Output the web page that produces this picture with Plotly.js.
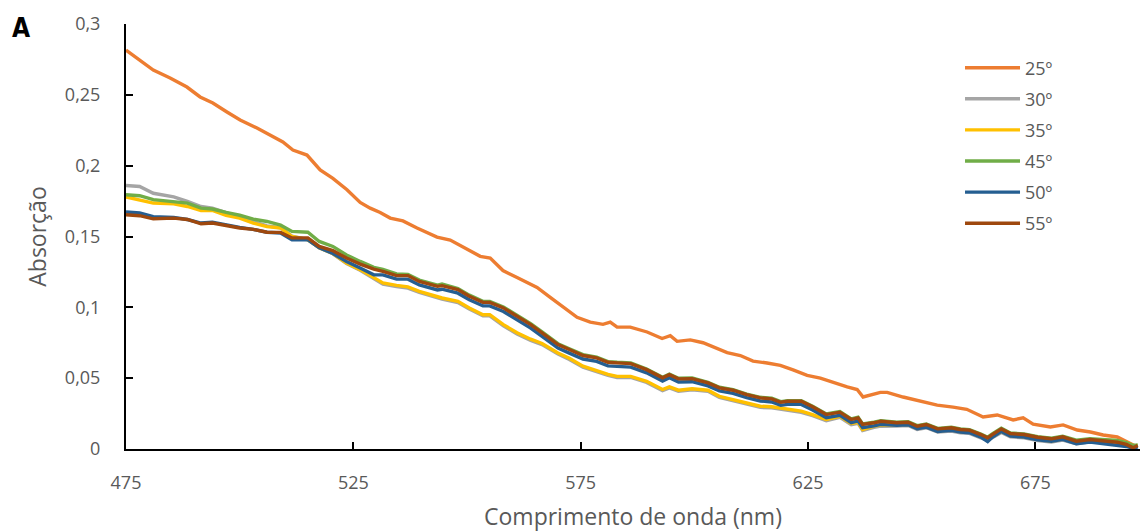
<!DOCTYPE html>
<html>
<head>
<meta charset="utf-8">
<script src="https://cdn.plot.ly/plotly-3.0.1.min.js"></script>
<style>html,body{margin:0;padding:0;background:#fff;}#chart{width:1140px;height:532px;}</style>
</head>
<body>
<div id="chart"></div>
<script>
// Wavelengths (nm) for the 25º series
const wl25 = [475,478,481,484.7,488.4,491.3,494.1,497.2,500.1,503.8,506.7,509.5,511.7,514.8,517.7,520.5,523.6,526.5,528.7,530.9,533.1,535.9,539,543.4,546.3,549.1,552.9,555.1,557.9,561,565.4,568.3,571.1,574.2,577.1,579.9,581.5,583,585.9,589.6,592.9,594.7,596.2,599.1,601.9,604.1,607.2,610.1,612.9,616,618.9,621.7,624.8,627.7,630.5,633.6,635.8,637.1,640.9,642.4,645.9,649.7,653.4,656.9,659.9,663.5,666.6,670.1,672.3,674.5,678.3,681.1,684.2,687.1,689.9,693,696.5,697.4];
const abs25 = [0.2816,0.2746,0.2675,0.2619,0.2555,0.2485,0.2442,0.2379,0.2322,0.2266,0.2216,0.2167,0.211,0.2075,0.197,0.191,0.183,0.174,0.170,0.167,0.163,0.161,0.156,0.1496,0.1475,0.1426,0.136,0.1348,0.126,0.121,0.114,0.107,0.100,0.093,0.0896,0.088,0.0896,0.086,0.086,0.0826,0.078,0.080,0.076,0.077,0.075,0.072,0.068,0.066,0.062,0.0607,0.059,0.0558,0.052,0.050,0.047,0.0438,0.042,0.0367,0.040,0.040,0.0367,0.034,0.031,0.0296,0.028,0.0226,0.024,0.0205,0.022,0.0176,0.0155,0.017,0.0134,0.012,0.0099,0.0085,0.003,0.0014];

// Wavelengths (nm) shared by the other series
const wl = [475,478,481,485.5,488.5,491.5,494,497,500,503,506,509,511.5,515,517.5,520.5,523.5,526.5,529.5,
  531.5,534.5,537,539.5,543.5,544.5,548,550.5,553.5,555,558,561,564,566.5,570,572.5,575.5,578.5,581,583,586,
  589.5,593,594.5,596.5,599.5,603,605.5,608.5,611.5,614.5,617,619,620.5,623.5,626,629,632,634.5,636,637,639.5,641,
  644.5,647,649,651,653.5,656.5,658.5,660.5,663,664.5,665.5,667.5,669.5,672.5,675.5,678.5,681,684,687,690,693,695,696.5,697.5];

const abs30 = [0.186,0.1853,0.1805,0.178,0.1748,0.1712,0.170,0.1668,0.164,0.1602,0.1575,0.1562,0.1502,0.1478,0.142,0.1378,0.131,0.1262,0.1202,
  0.1164,0.1147,0.1136,0.1105,0.1067,0.1058,0.1034,0.0988,0.094,0.094,0.087,0.0812,0.0767,0.0737,0.067,0.0632,0.0577,0.0542,0.0519,0.0505,0.0505,
  0.047,0.0412,0.0431,0.0407,0.0417,0.0407,0.0364,0.0341,0.0318,0.0294,0.029,0.0282,0.0271,0.0259,0.0235,0.02,0.0223,0.0172,0.0181,0.013,0.0153,0.0161,
  0.0162,0.0166,0.0138,0.015,0.0119,0.0127,0.0115,0.011,0.0079,0.0062,0.0079,0.0117,0.0086,0.0079,0.006,0.0049,0.0063,0.0037,0.005,0.0054,0.005,0.0037,0.0014,0.0018];

const abs35 = [0.1779,0.176,0.1736,0.1731,0.1712,0.1684,0.1684,0.165,0.163,0.1595,0.157,0.156,0.150,0.1477,0.142,0.138,0.1313,0.1266,0.1207,
  0.1172,0.1155,0.1144,0.1113,0.1075,0.1066,0.1042,0.0996,0.0948,0.0948,0.0878,0.082,0.0775,0.0745,0.0678,0.064,0.0585,0.055,0.0527,0.0513,0.0513,
  0.0478,0.042,0.0439,0.0415,0.0425,0.0415,0.0372,0.0349,0.0326,0.0302,0.0298,0.029,0.0279,0.0267,0.0243,0.0208,0.0231,0.018,0.0189,0.0138,0.0161,0.0169,
  0.017,0.0174,0.0146,0.0158,0.0127,0.0135,0.0123,0.0118,0.0087,0.007,0.0087,0.0125,0.0094,0.0087,0.0068,0.0057,0.0071,0.0045,0.0058,0.0062,0.0058,0.0045,0.0022,0.0026];

const abs45 = [0.1795,0.1788,0.176,0.1748,0.1736,0.170,0.1694,0.167,0.165,0.1623,0.1606,0.158,0.1536,0.153,0.1465,0.143,0.137,0.1324,0.1282,
  0.1268,0.1236,0.1233,0.1192,0.1157,0.1165,0.1133,0.1086,0.1043,0.1041,0.1003,0.0944,0.0885,0.0826,0.0743,0.0708,0.0666,0.0648,0.0617,0.0612,0.0607,
  0.0564,0.0506,0.0529,0.0499,0.0501,0.0471,0.0436,0.0419,0.0388,0.0365,0.0358,0.0334,0.0341,0.0341,0.0302,0.0247,0.0264,0.0212,0.0224,0.0177,0.0189,0.02,
  0.0189,0.0193,0.0165,0.0177,0.0146,0.0154,0.0142,0.0137,0.0106,0.0083,0.0106,0.0146,0.0113,0.0106,0.0087,0.0076,0.009,0.0062,0.0072,0.0068,0.006,0.0045,0.0025,0.0028];

const abs50 = [0.1673,0.1666,0.164,0.1635,0.162,0.1595,0.160,0.158,0.1564,0.155,0.153,0.1525,0.1477,0.1477,0.142,0.138,0.1324,0.1278,0.123,
  0.1229,0.1199,0.1199,0.1158,0.1123,0.1128,0.11,0.1053,0.101,0.101,0.0971,0.0912,0.0853,0.0795,0.0712,0.0677,0.0635,0.0618,0.0587,0.0583,0.0578,
  0.0538,0.048,0.0503,0.0473,0.0475,0.0445,0.041,0.0393,0.0362,0.0339,0.0332,0.0308,0.0315,0.0315,0.0276,0.0221,0.0238,0.0186,0.0198,0.0151,0.0163,0.0174,
  0.0167,0.0171,0.0143,0.0155,0.0124,0.0132,0.012,0.0115,0.0084,0.0052,0.0082,0.0124,0.0091,0.0084,0.0065,0.0054,0.0068,0.0037,0.0049,0.0037,0.003,0.0018,0.0005,0.0015];

const abs55 = [0.1654,0.1647,0.1625,0.163,0.162,0.159,0.1595,0.1576,0.156,0.155,0.153,0.1529,0.149,0.149,0.143,0.140,0.1348,0.1305,0.127,
  0.1254,0.1224,0.1224,0.1183,0.1148,0.1153,0.1125,0.1078,0.1035,0.1035,0.0996,0.0937,0.0878,0.082,0.0737,0.0702,0.066,0.0643,0.0612,0.0608,0.0603,
  0.056,0.0502,0.0525,0.0495,0.0497,0.0467,0.0432,0.0415,0.0384,0.0361,0.0354,0.033,0.0337,0.0337,0.0298,0.0243,0.026,0.0208,0.022,0.0173,0.0185,0.0196,
  0.0185,0.0189,0.0161,0.0173,0.0142,0.015,0.0138,0.0133,0.0102,0.0079,0.0102,0.0142,0.0109,0.0102,0.0083,0.0072,0.0086,0.0055,0.0067,0.0055,0.0048,0.0032,0.0008,0.0025];

const seriesNames = ['25º','30º','35º','45º','50º','55º'];
const seriesColors = ['#ED7D31','#A5A5A5','#FFC000','#70AD47','#255E91','#9E480E'];
const xTicks = [475,525,575,625,675];
const yTicks = [0,0.05,0.1,0.15,0.2,0.25,0.3];
const yTickText = ['0','0,05','0,1','0,15','0,2','0,25','0,3'];

const xs = [wl25, wl, wl, wl, wl, wl];
const ys = [abs25, abs30, abs35, abs45, abs50, abs55];

const traces = ys.map((y, i) => ({
  type: 'scatter', mode: 'lines', x: xs[i], y: y, name: seriesNames[i],
  legendgroup: 'g' + i,
  line: {color: seriesColors[i], width: 3.4}
}));

const gray = '#595959';
const layout = {
  width: 1140, height: 532,
  margin: {l: 126, r: 0, t: 24, b: 82.5},
  paper_bgcolor: '#fff', plot_bgcolor: '#fff',
  font: {family: '"Open Sans", sans-serif', color: gray, size: 18},
  xaxis: {
    range: [475, 698], tickvals: xTicks, ticktext: xTicks.map(String),
    showgrid: false, zeroline: false, showline: true, linecolor: '#000', linewidth: 2,
    ticks: 'inside', ticklen: 7, tickwidth: 2, tickcolor: '#000',
    ticklabelstandoff: 16,
    tickfont: {size: 18, color: gray},
    title: {text: 'Comprimento de onda (nm)', font: {size: 23, color: gray}, standoff: 17}
  },
  yaxis: {
    range: [0, 0.3], tickvals: yTicks, ticktext: yTickText,
    showgrid: false, zeroline: false, showline: true, linecolor: '#000', linewidth: 2,
    ticks: 'inside', ticklen: 7, tickwidth: 2, tickcolor: '#000',
    ticklabelstandoff: 20,
    tickfont: {size: 18, color: gray},
    title: {text: 'Absorção', font: {size: 23, color: gray}, standoff: 12}
  },
  showlegend: true,
  legend: {
    x: 0.8225, y: 0.94, xanchor: 'left', yanchor: 'top',
    bgcolor: 'rgba(0,0,0,0)', font: {size: 18, color: gray},
    tracegroupgap: 4.7, itemwidth: 55
  },
  annotations: [{
    text: '<b>A</b>', xref: 'paper', yref: 'paper', x: -0.104, y: 0.99,
    xanchor: 'center', yanchor: 'middle', showarrow: false,
    font: {family: '"DejaVu Sans Condensed", "DejaVu Sans", sans-serif', size: 26, color: '#000'}
  }]
};

Plotly.newPlot('chart', traces, layout, {displayModeBar: false, staticPlot: true});
</script>
</body>
</html>
